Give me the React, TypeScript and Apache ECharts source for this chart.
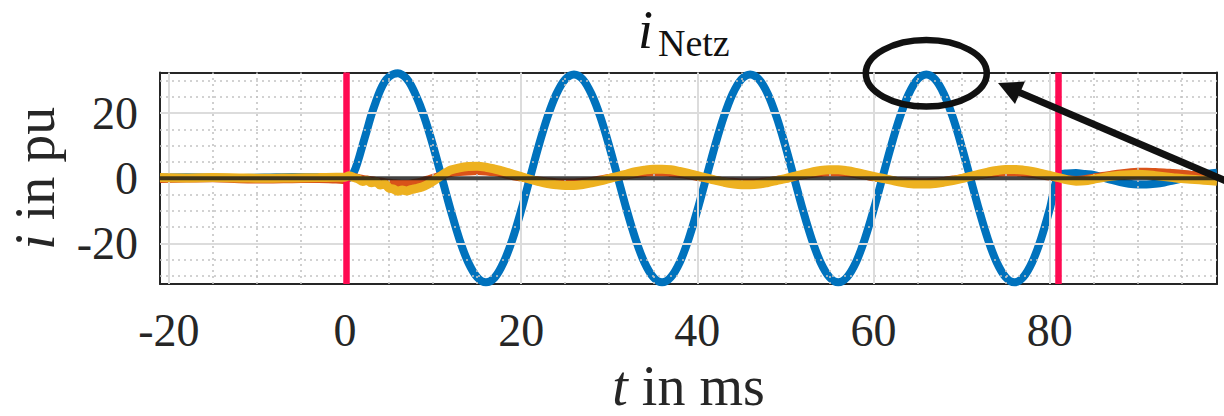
import React, { useEffect, useRef } from "react";
import * as echarts from "echarts";

// time in ms
const tMs = [
  -21, -18, -15, -12, -9, -6, -3, -1,
  0, 0.5, 1, 1.5, 2, 2.5, 3, 3.5, 4, 4.5, 5, 5.5, 6, 6.5, 7, 7.5, 8, 8.5, 9, 9.5, 10, 10.5, 11, 11.5, 12,
  13, 14, 15, 16, 17, 18, 19, 20, 21, 22, 23, 24, 25, 26, 27, 28, 29, 30, 31, 32,
  33, 34, 35, 36, 37, 38, 39, 40, 41, 42, 43, 44, 45, 46, 47, 48, 49, 50, 51, 52,
  53, 54, 55, 56, 57, 58, 59, 60, 61, 62, 63, 64, 65, 66, 67, 68, 69, 70, 71, 72,
  73, 74, 75, 76, 77, 78, 79, 80, 81, 82, 83, 84, 85, 86, 87, 88, 89, 90, 91, 92,
  93, 94, 95, 96, 97, 98, 99,
];

// phase currents in pu
const iBlue = [
  0.2, 0.3, 0.2, 0.1, 0.2, 0.4, 0.3, 0.1,
  0.0, 0.2, 1.8, 5.5, 10.2, 14.8, 19.5, 23.5, 27.0, 29.6, 31.2, 32.0, 32.3, 31.8, 30.6, 28.6, 25.8, 22.6, 18.8, 14.6, 10.0, 5.1, 0.1, -4.9, -9.8,
  -18.8, -25.9, -30.4, -32.0, -30.5, -25.9, -18.9, -9.9, 0.1, 10.0, 18.9, 25.9, 30.4, 31.9, 30.4, 25.8, 18.8, 9.9, 0.0, -9.9,
  -18.8, -25.9, -30.4, -32.0, -30.4, -25.9, -18.8, -9.9, 0.0, 9.9, 18.8, 25.9, 30.4, 31.9, 30.4, 25.9, 18.8, 9.9, 0.0, -9.9,
  -18.8, -25.9, -30.4, -32.0, -30.4, -25.9, -18.8, -9.9, 0.0, 9.9, 18.8, 25.9, 30.4, 31.9, 30.4, 25.9, 18.8, 9.9, 0.0, -9.9,
  -18.8, -25.9, -30.4, -32.0, -30.4, -25.9, -18.8, -9.6, 0.8, 1.5, 1.6, 1.3, 1.0, 0.3, -0.5, -1.2, -1.7, -1.9, -1.9, -1.7,
  -1.3, -0.7, -0.1, 0.5, 1.0, 1.4, 1.7,
];

const iOrange = [
  -0.2, -0.1, 0.0, -0.3, -0.4, -0.3, -0.2, -0.4,
  -0.6, 0.3, 0.4, 0.1, -0.2, -0.4, -0.6, -0.8, -1.0, -1.2, -1.4, -1.5, -1.6, -1.7, -1.7, -1.6, -1.4, -1.1, -0.7, -0.3, 0.1, 0.5, 0.9, 1.3, 1.6,
  1.9, 2.1, 2.2, 2.1, 1.8, 1.3, 0.7, 0.2, -0.3, -0.7, -1.0, -1.2, -1.3, -1.3, -1.1, -0.8, -0.4, 0.1, 0.5, 0.9,
  1.3, 1.6, 1.8, 1.8, 1.6, 1.3, 0.9, 0.4, 0.0, -0.5, -0.9, -1.1, -1.3, -1.3, -1.2, -0.9, -0.5, -0.1, 0.4, 0.9,
  1.3, 1.6, 1.8, 1.8, 1.6, 1.2, 0.8, 0.3, -0.1, -0.5, -0.9, -1.1, -1.2, -1.2, -1.1, -0.8, -0.4, 0.0, 0.5, 0.9,
  1.3, 1.6, 1.8, 1.8, 1.6, 1.3, 0.9, 0.5, 0.1, -0.3, -0.5, -0.3, 0.2, 0.7, 1.1, 1.5, 1.8, 2.0, 2.0, 1.9,
  1.8, 1.6, 1.4, 1.1, 0.8, 0.4, 0.1,
];

const iYellow = [
  0.2, 0.1, 0.2, 0.1, 0.0, 0.1, 0.2, 0.3,
  0.3, 0.8, 0.2, -0.2, -1.0, -0.6, -1.4, -1.1, -2.1, -1.8, -3.0, -3.3, -4.0, -3.6, -3.9, -3.5, -3.2, -2.9, -2.4, -1.7, -0.9, 0.0, 0.9, 1.8, 2.5,
  3.2, 3.6, 3.7, 3.4, 2.8, 2.1, 1.3, 0.5, -0.3, -1.0, -1.6, -2.0, -2.2, -2.2, -1.9, -1.4, -0.8, -0.1, 0.6, 1.3,
  2.0, 2.5, 2.8, 2.8, 2.6, 2.1, 1.5, 0.8, 0.1, -0.6, -1.2, -1.7, -2.0, -2.0, -1.8, -1.3, -0.7, -0.1, 0.6, 1.3,
  1.9, 2.4, 2.6, 2.6, 2.3, 1.8, 1.2, 0.6, 0.0, -0.6, -1.2, -1.6, -1.8, -1.8, -1.6, -1.2, -0.7, -0.1, 0.6, 1.3,
  1.9, 2.4, 2.7, 2.7, 2.5, 2.1, 1.5, 0.9, 0.2, -0.5, -0.9, -0.8, -0.3, 0.2, 0.6, 0.9, 1.1, 1.2, 1.1, 0.8,
  0.5, 0.2, -0.1, -0.3, -0.5, -0.7, -0.9,
];

const xRange = [-21, 99];
const yRange = [-32.5, 32.5];
const xTicks = [-20, 0, 20, 40, 60, 80];
const yTicks = [-20, 0, 20];
const xMinorGrid = [-15, -10, -5, 5, 10, 15, 25, 30, 35, 45, 50, 55, 65, 70, 75, 85, 90, 95];
const yMinorGrid = [-30, -25, -15, -10, -5, 5, 10, 15, 25, 30];
const faultMarks = [0.2, 81];
const zeroLevel = [0, 0];

const SERIF = '"Liberation Serif", "Times New Roman", serif';
const INK = "#262626";

export default function App() {
  const ref = useRef<HTMLDivElement>(null);

  useEffect(() => {
    if (!ref.current) return;
    const chart = echarts.init(ref.current, undefined, { renderer: "svg" });

    const pairs = (vals: number[]) => tMs.map((t, i) => [t, vals[i]]);
    const axisLineStyle = { color: INK, width: 2 };

    const xBase = {
      type: "value",
      min: xRange[0],
      max: xRange[1],
      splitLine: { show: false },
      axisLine: { show: true, onZero: false, lineStyle: axisLineStyle },
      axisTick: { show: true, inside: true, length: 12, customValues: xTicks, lineStyle: axisLineStyle },
    };
    const yBase = {
      type: "value",
      min: yRange[0],
      max: yRange[1],
      splitLine: { show: false },
      axisLine: { show: true, onZero: false, lineStyle: axisLineStyle },
      axisTick: { show: true, inside: true, length: 12, customValues: yTicks, lineStyle: axisLineStyle },
    };

    const nameStyle = {
      fontSize: 56,
      fontFamily: SERIF,
      color: INK,
      rich: { it: { fontSize: 56, fontFamily: SERIF, fontStyle: "italic", color: INK } },
    };

    chart.setOption({
      animation: false,
      backgroundColor: "#ffffff",
      grid: { left: 160, right: 7, top: 72.5, bottom: 132, outerBoundsMode: "none", containLabel: false },
      xAxis: [
        {
          ...xBase,
          position: "bottom",
          axisLabel: {
            customValues: xTicks,
            margin: 23,
            fontSize: 46,
            fontFamily: SERIF,
            color: INK,
            formatter: (v: number) => String(v),
          },
          name: "{it|t} in ms",
          nameLocation: "middle",
          nameGap: 61,
          nameTextStyle: nameStyle,
        },
        { ...xBase, position: "top", axisLabel: { show: false } },
      ],
      yAxis: [
        {
          ...yBase,
          position: "left",
          axisLabel: {
            customValues: yTicks,
            margin: 22,
            fontSize: 46,
            fontFamily: SERIF,
            color: INK,
            formatter: (v: number) => String(v),
          },
          name: "{it|i} in pu",
          nameLocation: "middle",
          nameGap: 97,
          nameTextStyle: nameStyle,
        },
        { ...yBase, position: "right", axisLabel: { show: false } },
      ],
      series: [
        {
          name: "gridMinor",
          type: "line",
          data: [],
          z: 1,
          silent: true,
          markLine: {
            silent: true,
            symbol: ["none", "none"],
            label: { show: false },
            lineStyle: { color: "#c4c4c4", width: 1.6, type: [2, 4] },
            data: [
              ...xMinorGrid.map((v) => ({ xAxis: v })),
              ...yMinorGrid.map((v) => ({ yAxis: v })),
            ],
          },
        },
        {
          name: "gridMajor",
          type: "line",
          data: [],
          z: 1,
          silent: true,
          markLine: {
            silent: true,
            symbol: ["none", "none"],
            label: { show: false },
            lineStyle: { color: "#dcdcdc", width: 2, type: "solid" },
            data: [
              ...xTicks.map((v) => ({ xAxis: v })),
              ...yTicks.filter((v) => v !== 0).map((v) => ({ yAxis: v })),
            ],
          },
        },
        {
          name: "i_a",
          type: "line",
          data: pairs(iBlue),
          showSymbol: false,
          smooth: 0.35,
          clip: false,
          z: 3,
          lineStyle: { color: "#0072BD", width: 8 },
        },
        {
          name: "i_b",
          type: "line",
          data: pairs(iOrange),
          showSymbol: false,
          smooth: 0.35,
          clip: false,
          z: 4,
          lineStyle: { color: "#D95319", width: 8 },
        },
        {
          name: "i_c",
          type: "line",
          data: pairs(iYellow),
          showSymbol: false,
          smooth: 0.35,
          clip: false,
          z: 5,
          lineStyle: { color: "#EDB120", width: 9 },
        },
        {
          name: "zero",
          type: "line",
          data: xRange.map((t, i) => [t, zeroLevel[i]]),
          showSymbol: false,
          z: 6,
          silent: true,
          lineStyle: { color: "rgba(25,25,25,0.82)", width: 4 },
        },
        {
          name: "fault",
          type: "line",
          data: [],
          z: 8,
          silent: true,
          markLine: {
            silent: true,
            symbol: ["none", "none"],
            label: { show: false },
            lineStyle: { color: "#FF0A52", width: 6.5, type: "solid" },
            data: faultMarks.map((v) => ({ xAxis: v })),
          },
        },
      ],
      graphic: [
        {
          type: "text",
          x: 638,
          y: 3,
          z: 100,
          style: { text: "i", font: `italic 54px ${SERIF}`, fill: "#111", align: "left", verticalAlign: "top" },
        },
        {
          type: "text",
          x: 658,
          y: 24,
          z: 100,
          style: { text: "Netz", font: `38px ${SERIF}`, fill: "#111", align: "left", verticalAlign: "top" },
        },
        {
          type: "ellipse",
          z: 100,
          shape: { cx: 926.3, cy: 73.3, rx: 60.5, ry: 33.3 },
          style: { fill: "none", stroke: "#111", lineWidth: 6.5 },
        },
        {
          type: "line",
          z: 100,
          shape: { x1: 1016, y1: 91, x2: 1240, y2: 187 },
          style: { stroke: "#111", lineWidth: 7 },
        },
        {
          type: "polygon",
          z: 100,
          shape: { points: [[998, 83], [1025, 81.5], [1015, 104]] },
          style: { fill: "#111" },
        },
      ],
    });

    return () => chart.dispose();
  }, []);

  return (
    <div
      ref={ref}
      style={{ position: "fixed", left: 0, top: 0, width: 1224, height: 416, background: "#fff" }}
    />
  );
}
